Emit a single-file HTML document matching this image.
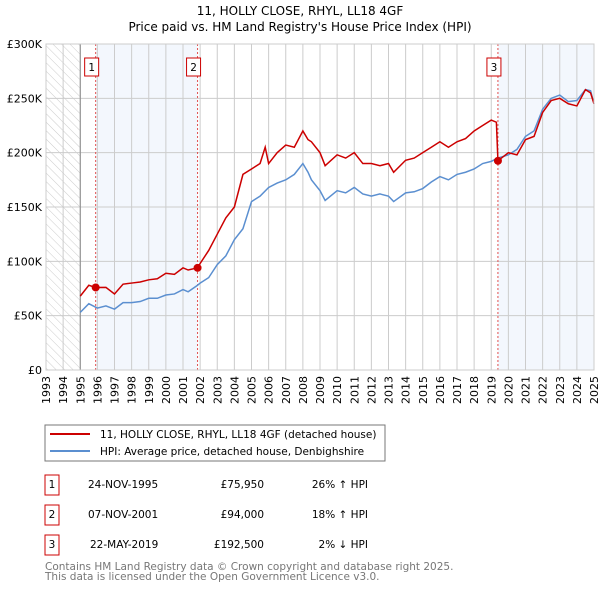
<!DOCTYPE html>
<html><head><meta charset="utf-8"><style>
body{margin:0;background:#fff;font-family:"DejaVu Sans","Liberation Sans",sans-serif;}
svg text{font-family:"DejaVu Sans","Liberation Sans",sans-serif;}
</style></head><body>
<svg id="chart" width="600" height="590" xmlns="http://www.w3.org/2000/svg">
<defs><pattern id="hatch" width="6" height="6" patternUnits="userSpaceOnUse" patternTransform="rotate(-45)"><line x1="0" y1="0" x2="0" y2="6" stroke="#ccc" stroke-width="1"/></pattern></defs>
<text x="300" y="15" font-size="12" text-anchor="middle">11, HOLLY CLOSE, RHYL, LL18 4GF</text>
<text x="300" y="31" font-size="12" text-anchor="middle">Price paid vs. HM Land Registry's House Price Index (HPI)</text>
<g id="plot"></g>
<g>
<rect x="45" y="425" width="340" height="36" fill="#fff" stroke="#777"/>
<line x1="50" y1="434" x2="90" y2="434" stroke="#cc0000" stroke-width="2"/>
<text x="100" y="438" font-size="10.5">11, HOLLY CLOSE, RHYL, LL18 4GF (detached house)</text>
<line x1="50" y1="451" x2="90" y2="451" stroke="#5b8fd0" stroke-width="2"/>
<text x="100" y="455" font-size="10.5">HPI: Average price, detached house, Denbighshire</text>
</g>
<g font-size="10.5">
<rect x="45" y="475" width="14" height="20" fill="#fff" stroke="#cc0000"/><text x="52" y="488" text-anchor="middle">1</text>
<text x="88" y="488">24-NOV-1995</text><text x="264" y="488" text-anchor="end">£75,950</text><text x="368" y="488" text-anchor="end">26% ↑ HPI</text>
<rect x="45" y="505" width="14" height="20" fill="#fff" stroke="#cc0000"/><text x="52" y="518" text-anchor="middle">2</text>
<text x="88" y="518">07-NOV-2001</text><text x="264" y="518" text-anchor="end">£94,000</text><text x="368" y="518" text-anchor="end">18% ↑ HPI</text>
<rect x="45" y="535" width="14" height="20" fill="#fff" stroke="#cc0000"/><text x="52" y="548" text-anchor="middle">3</text>
<text x="90" y="548">22-MAY-2019</text><text x="264" y="548" text-anchor="end">£192,500</text><text x="368" y="548" text-anchor="end">2% ↓ HPI</text>
</g>
<text x="45" y="570" font-size="10.5" fill="#777">Contains HM Land Registry data © Crown copyright and database right 2025.</text>
<text x="45" y="580" font-size="10.5" fill="#777">This data is licensed under the Open Government Licence v3.0.</text>
</svg>
<script>
const yearTicks=[1993,1994,1995,1996,1997,1998,1999,2000,2001,2002,2003,2004,2005,2006,2007,2008,2009,2010,2011,2012,2013,2014,2015,2016,2017,2018,2019,2020,2021,2022,2023,2024,2025];
const priceTicks=[0,50000,100000,150000,200000,250000,300000];
const priceTickLabels=["£0","£50K","£100K","£150K","£200K","£250K","£300K"];
const hpiDates=[1995.0,1995.5,1996.0,1996.5,1997.0,1997.5,1998.0,1998.5,1999.0,1999.5,2000.0,2000.5,2001.0,2001.3,2001.85,2002.0,2002.5,2003.0,2003.5,2004.0,2004.5,2005.0,2005.5,2006.0,2006.5,2007.0,2007.5,2008.0,2008.3,2008.5,2009.0,2009.3,2010.0,2010.5,2011.0,2011.5,2012.0,2012.5,2013.0,2013.3,2014.0,2014.5,2015.0,2015.5,2016.0,2016.5,2017.0,2017.5,2018.0,2018.5,2019.0,2019.39,2020.0,2020.5,2021.0,2021.5,2022.0,2022.5,2023.0,2023.5,2024.0,2024.5,2024.8,2025.0];
const hpiValues=[53000,61000,57000,59000,56000,62000,62000,63000,66000,66000,69000,70000,74000,72000,78000,80000,85000,97000,105000,120000,130000,155000,160000,168000,172000,175000,180000,190000,182000,175000,165000,156000,165000,163000,168000,162000,160000,162000,160000,155000,163000,164000,167000,173000,178000,175000,180000,182000,185000,190000,192000,195000,198000,203000,215000,220000,240000,250000,253000,247000,248000,258000,257000,245000];
const paidDates=[1995.0,1995.5,1995.9,1996.5,1997.0,1997.5,1998.0,1998.5,1999.0,1999.5,2000.0,2000.5,2001.0,2001.3,2001.85,2002.0,2002.5,2003.0,2003.5,2004.0,2004.5,2005.0,2005.5,2005.8,2006.0,2006.5,2007.0,2007.5,2008.0,2008.3,2008.5,2009.0,2009.3,2010.0,2010.5,2011.0,2011.5,2012.0,2012.5,2013.0,2013.3,2014.0,2014.5,2015.0,2015.5,2016.0,2016.5,2017.0,2017.5,2018.0,2018.5,2019.0,2019.3,2019.39,2020.0,2020.5,2021.0,2021.5,2022.0,2022.5,2023.0,2023.5,2024.0,2024.5,2024.8,2025.0];
const paidValues=[68000,78000,75950,76000,70000,79000,80000,81000,83000,84000,89000,88000,94000,92000,94000,98000,110000,125000,140000,150000,180000,185000,190000,205000,190000,200000,207000,205000,220000,212000,210000,200000,188000,198000,195000,200000,190000,190000,188000,190000,182000,193000,195000,200000,205000,210000,205000,210000,213000,220000,225000,230000,228000,192500,200000,198000,212000,215000,237000,248000,250000,245000,243000,258000,255000,245000];
const saleDates=[1995.9,2001.85,2019.39];
const saleValues=[75950,94000,192500];
const saleLabels=["1","2","3"];
const X0=46,X1=594,Y0=370,Y1=44;
const xs=y=>X0+(y-1993)/(2025-1993)*(X1-X0);
const ys=v=>Y0-(v/300000)*(Y0-Y1);
const NS="http://www.w3.org/2000/svg";
const g=document.getElementById('plot');
function mk(t,a){const e=document.createElementNS(NS,t);for(const k in a)e.setAttribute(k,a[k]);g.appendChild(e);return e;}
let r=mk('rect',{x:X0,y:Y1,width:xs(1995)-X0,height:Y0-Y1,fill:'url(#hatch)'});


r=mk('rect',{x:xs(saleDates[0]),y:Y1,width:xs(saleDates[1])-xs(saleDates[0]),height:Y0-Y1,fill:'#eef3fc',opacity:0.7});


r=mk('rect',{x:xs(saleDates[2]),y:Y1,width:X1-xs(saleDates[2]),height:Y0-Y1,fill:'#eef3fc',opacity:0.7});


yearTicks.forEach(yr=>{
 const l=mk('line',{x1:xs(yr),x2:xs(yr),y1:Y1,y2:Y0,stroke:'#ccc'});
 
 
 const t=mk('text',{x:0,y:0,'font-size':11,'text-anchor':'end',transform:`translate(${xs(yr)+4},${Y0+6}) rotate(-90)`});
 t.textContent=yr;
 
 
});
priceTicks.forEach((v,i)=>{
 const l=mk('line',{x1:X0,x2:X1,y1:ys(v),y2:ys(v),stroke:'#ccc'});
 
 
 const t=mk('text',{x:X0-4,y:ys(v)+4,'font-size':11,'text-anchor':'end'});
 t.textContent=priceTickLabels[i];
 
 
});
let l=mk('line',{x1:xs(1995),x2:xs(1995),y1:Y1,y2:Y0,stroke:'#888'});


saleDates.forEach((d,i)=>{
 const v=mk('line',{x1:xs(d),x2:xs(d),y1:Y1,y2:Y0,stroke:'#e05050','stroke-dasharray':'2,2','stroke-width':1});
 
 
});
const p1=mk('polyline',{points:hpiDates.map((d,i)=>xs(d)+','+ys(hpiValues[i])).join(' '),fill:'none',stroke:'#5b8fd0','stroke-width':1.5});


const p2=mk('polyline',{points:paidDates.map((d,i)=>xs(d)+','+ys(paidValues[i])).join(' '),fill:'none',stroke:'#cc0000','stroke-width':1.5});


saleDates.forEach((d,i)=>{
 const c=mk('circle',{cx:xs(d),cy:ys(saleValues[i]),r:4,fill:'#cc0000'});
 
 
 const b=mk('rect',{x:xs(d)-11,y:58,width:14,height:18,fill:'#fff',stroke:'#cc0000'});
 
 
 const t=mk('text',{x:xs(d)-4,y:71,'font-size':10.5,'text-anchor':'middle'});
 t.textContent=saleLabels[i];
 
 
});
r=mk('rect',{x:X0,y:Y1,width:X1-X0,height:Y0-Y1,fill:'none',stroke:'#ccc'});


</script>
</body></html>
